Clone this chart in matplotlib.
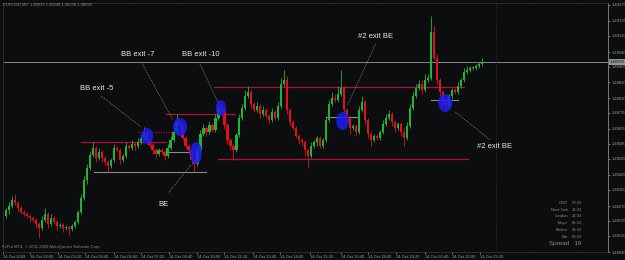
import matplotlib
matplotlib.use("Agg")
import matplotlib.pyplot as plt
from matplotlib.patches import Ellipse
from matplotlib.transforms import blended_transform_factory

# EURUSD M5, 14 Oct 2009 (one candle per list entry)
first_open = 1.48220
closes = [
    1.48250, 1.48270, 1.48300, 1.48285, 1.48260, 1.48240, 1.48230, 1.48220, 1.48210, 1.48200,
    1.48180, 1.48160, 1.48200, 1.48230, 1.48180, 1.48210, 1.48190, 1.48170, 1.48175, 1.48160,
    1.48165, 1.48155, 1.48170, 1.48190, 1.48240, 1.48310, 1.48400, 1.48460, 1.48525, 1.48560,
    1.48510, 1.48540, 1.48510, 1.48490, 1.48470, 1.48500, 1.48560, 1.48550, 1.48500, 1.48520,
    1.48570, 1.48560, 1.48580, 1.48570, 1.48590, 1.48610, 1.48635, 1.48600, 1.48575, 1.48550,
    1.48530, 1.48550, 1.48540, 1.48520, 1.48560, 1.48600, 1.48640, 1.48690, 1.48675, 1.48610,
    1.48570, 1.48550, 1.48500, 1.48480, 1.48550, 1.48630, 1.48660, 1.48640, 1.48675, 1.48650,
    1.48710, 1.48760, 1.48750, 1.48675, 1.48600, 1.48570, 1.48550, 1.48625, 1.48710, 1.48760,
    1.48820, 1.48840, 1.48780, 1.48750, 1.48770, 1.48730, 1.48750, 1.48720, 1.48700, 1.48740,
    1.48710, 1.48770, 1.48880, 1.48900, 1.48750, 1.48690, 1.48660, 1.48620, 1.48600, 1.48590,
    1.48550, 1.48520, 1.48570, 1.48590, 1.48610, 1.48570, 1.48600, 1.48700, 1.48780, 1.48810,
    1.48800, 1.48830, 1.48860, 1.48750, 1.48710, 1.48660, 1.48670, 1.48640, 1.48750, 1.48790,
    1.48700, 1.48630, 1.48600, 1.48620, 1.48610, 1.48640, 1.48680, 1.48710, 1.48730, 1.48690,
    1.48660, 1.48680, 1.48640, 1.48610, 1.48670, 1.48760, 1.48820, 1.48860, 1.48880, 1.48850,
    1.48900, 1.48910, 1.49140, 1.49010, 1.48900, 1.48840, 1.48800, 1.48770, 1.48820, 1.48850,
    1.48840, 1.48870, 1.48900, 1.48940, 1.48950, 1.48960, 1.48960, 1.48970, 1.48980, 1.48990,
]
# wick lengths in pips above / below the body
wick_up = [
    1, 2, 2, 3, 1, 1, 1, 1, 1, 1,
    1, 1, 2, 3, 1, 2, 1, 1, 1, 1,
    1, 1, 1, 1, 1, 2, 2, 2, 2, 3,
    1, 2, 1, 1, 1, 1, 2, 1, 1, 1,
    2, 1, 2, 1, 2, 2, 3, 1, 1, 1,
    1, 1, 1, 1, 2, 2, 2, 4, 1, 1,
    1, 1, 1, 1, 1, 2, 2, 1, 2, 1,
    2, 3, 2, 1, 1, 1, 1, 1, 2, 2,
    3, 3, 1, 1, 2, 1, 2, 1, 1, 2,
    1, 2, 3, 5, 2, 1, 1, 1, 1, 1,
    1, 1, 2, 1, 1, 1, 1, 2, 2, 3,
    2, 4, 9, 1, 1, 1, 1, 1, 2, 3,
    1, 1, 1, 1, 1, 1, 2, 2, 2, 1,
    1, 1, 1, 2, 2, 2, 2, 2, 2, 2,
    3, 2, 8, 3, 2, 1, 1, 1, 1, 1,
    1, 2, 1, 2, 2, 1, 1, 1, 1, 2,
]
wick_dn = [
    1, 2, 1, 1, 2, 1, 1, 1, 2, 1,
    2, 5, 1, 1, 2, 1, 1, 2, 1, 2,
    1, 3, 1, 1, 1, 1, 1, 2, 1, 1,
    2, 1, 2, 2, 3, 1, 1, 1, 2, 1,
    1, 1, 1, 2, 1, 1, 1, 2, 1, 2,
    2, 1, 1, 2, 1, 1, 1, 1, 2, 1,
    1, 2, 2, 4, 1, 1, 1, 2, 1, 1,
    1, 1, 1, 2, 2, 2, 5, 1, 1, 1,
    1, 1, 2, 1, 1, 2, 1, 1, 2, 1,
    1, 1, 1, 1, 2, 2, 1, 1, 2, 2,
    3, 6, 1, 1, 2, 1, 1, 1, 1, 1,
    1, 1, 1, 2, 2, 3, 1, 2, 1, 1,
    2, 2, 3, 1, 1, 1, 1, 1, 1, 2,
    2, 1, 2, 4, 1, 1, 1, 1, 1, 2,
    1, 1, 1, 1, 2, 2, 2, 3, 1, 1,
    1, 1, 1, 1, 1, 1, 1, 1, 1, 1,
]
bid = 1.48990

# trade levels: (start bar, end bar, price)
red_levels = [(25, 53.5, 1.48590), (53.5, 76.5, 1.48730), (69.5, 153, 1.48865), (71, 154.5, 1.48505)]
red_dotted = [(44, 56, 1.48640)]
grey_levels = [(29.5, 67, 1.48440), (54.5, 62, 1.48540), (107, 118, 1.48715), (142, 151, 1.48800)]

# blue marks: (bar, price, width in bars, height in price)
marks = [(47.2, 1.48620, 4.0, 0.00080), (58.2, 1.48665, 4.7, 0.00090), (63.5, 1.48535, 4.0, 0.00110),
         (71.8, 1.48760, 3.4, 0.00080), (112.5, 1.48695, 4.3, 0.00090), (146.8, 1.48785, 4.7, 0.00090)]

# notes: text, text position, leader start, leader end
notes = [
    ("BB exit -5", (24.8, 1.48855), (31.8, 1.48820), (45.2, 1.48665)),
    ("BB exit -7", (38.5, 1.49025), (45.2, 1.48990), (55.8, 1.48700)),
    ("BB exit -10", (58.8, 1.49025), (64.5, 1.48990), (70.8, 1.48790)),
    ("#2 exit BE", (117.8, 1.49115), (123.5, 1.49080), (114.2, 1.48775)),
    ("#2 exit BE", (157.5, 1.48565), (150.2, 1.48740), (161.8, 1.48600)),
    ("BE", (50.8, 1.48275), (61.8, 1.48475), (54.2, 1.48335)),
]

time_pos = [-1, 8, 17.5, 26.5, 36, 45, 54.5, 64, 73, 82.5, 91.5, 101.5, 112, 121, 130.5, 140, 149, 158.5]
time_labels = ["14 Oct 2009", "14 Oct 02:00", "14 Oct 03:20", "14 Oct 04:40", "14 Oct 06:00",
               "14 Oct 07:20", "14 Oct 08:40", "14 Oct 10:00", "14 Oct 11:20", "14 Oct 12:40",
               "14 Oct 14:00", "14 Oct 15:20", "14 Oct 16:40", "14 Oct 18:00", "14 Oct 19:20",
               "14 Oct 20:40", "14 Oct 22:00", "14 Oct 23:20"]
price_ticks = [1.48040, 1.48120, 1.48195, 1.48270, 1.48350, 1.48425, 1.48505, 1.48580, 1.48655,
               1.48735, 1.48810, 1.48890, 1.48965, 1.49040, 1.49120, 1.49195, 1.49275]
clock_names = ["GMT", "New York", "London", "Tokyo", "Broker", "Bar"]
clock_times = ["20:33", "16:33", "21:33", "05:33", "23:33", "00:03"]
spread = 16

BG = "#0b0d0e"
GREEN = "#1fb53a"
RED = "#e3101e"
plt.rcParams["font.family"] = ["Liberation Sans", "DejaVu Sans"]

fig = plt.figure(figsize=(6.25, 2.6), dpi=100, facecolor=BG)
ax = fig.add_axes([3 / 625, 8 / 260, 605 / 625, 249 / 260], facecolor=BG)

opens = [first_open] + closes[:-1]
idx = list(range(len(closes)))
highs = [max(o, c) + u / 10000 for o, c, u in zip(opens, closes, wick_up)]
lows = [min(o, c) - d / 10000 for o, c, d in zip(opens, closes, wick_dn)]
cols = [GREEN if c >= o else RED for o, c in zip(opens, closes)]
bodies = [max(abs(c - o), 0.00003) for o, c in zip(opens, closes)]

ax.axhline(bid, color="#7d8a90", lw=0.7, zorder=1)
ax.axvline(163.8, color="#3a3a3a", lw=0.6, ls=(0, (1, 2)), zorder=1)
for x0, x1, p in red_levels:
    ax.plot([x0, x1], [p, p], color="#b0103a", lw=0.9, zorder=1)
for x0, x1, p in red_dotted:
    ax.plot([x0, x1], [p, p], color="#b0103a", lw=0.9, ls=(0, (1, 1)), zorder=1)
for x0, x1, p in grey_levels:
    ax.plot([x0, x1], [p, p], color="#8c8c84", lw=0.8, zorder=1)

ax.vlines(idx, lows, highs, colors=cols, lw=0.6, zorder=2)
ax.bar(idx, bodies, bottom=[min(o, c) for o, c in zip(opens, closes)], width=0.75,
       color=cols, linewidth=0, zorder=3)

for x, p, w, h in marks:
    ax.add_patch(Ellipse((x, p), w, h, facecolor="#1c1cf0", edgecolor="none", alpha=0.85, zorder=4))

for text, (tx, ty), (x0, y0), (x1, y1) in notes:
    ax.plot([x0, x1], [y0, y1], color="#8a8a8a", lw=0.5, ls=(0, (1.5, 1.2)), zorder=5)
    ax.text(tx, ty, text, color="#e8e8e8", fontsize=5.5, ha="left", va="center", zorder=6)

ax.set_xlim(-0.5, 201.2)
ax.set_ylim(1.48040, 1.49285)

ax.set_xticks(time_pos)
ax.set_xticklabels(time_labels, ha="left")
ax.yaxis.tick_right()
ax.set_yticks(price_ticks)
ax.set_yticklabels([f"{p:.5f}" for p in price_ticks])
ax.tick_params(axis="both", colors="#9a9a9a", labelsize=3, length=1.5, width=0.5, pad=1)
for s in ["top", "left", "bottom"]:
    ax.spines[s].set_color("#3c3c3c")
    ax.spines[s].set_linestyle((0, (1, 1.5)))
    ax.spines[s].set_linewidth(0.6)
ax.spines["right"].set_color("#8a8a8a")
ax.spines["right"].set_linewidth(0.6)

tr = blended_transform_factory(ax.transAxes, ax.transData)
ax.text(1.003, bid, f"{bid:.5f}", transform=tr, fontsize=3, color="#101010", va="center", ha="left",
        bbox=dict(boxstyle="square,pad=0.25", facecolor="#8e979b", edgecolor="none"))

fig.text(3 / 625, 1 - 5 / 260, "EURUSD,M5  1.48036 1.48048 1.48036 1.48036", color="#8a8a8a",
         fontsize=3, va="center", ha="left")
fig.text(2 / 625, 1 - 247 / 260, "FxPro MT4, \u00a9 2001-2008 MetaQuotes Software Corp.", color="#8a8a8a",
         fontsize=3, va="center", ha="left")
for k, (name, t) in enumerate(zip(clock_names, clock_times)):
    y = 1 - (203 + 6.7 * k) / 260
    fig.text(568 / 625, y, name, color="#8a8a8a", fontsize=3, ha="right", va="center")
    fig.text(572 / 625, y, t, color="#8a8a8a", fontsize=3, ha="left", va="center")
fig.text(549 / 625, 1 - 243 / 260, f"Spread   {spread}", color="#8a8a8a", fontsize=4.5, ha="left", va="center")

fig.savefig("out.png", dpi=100, facecolor=BG)
